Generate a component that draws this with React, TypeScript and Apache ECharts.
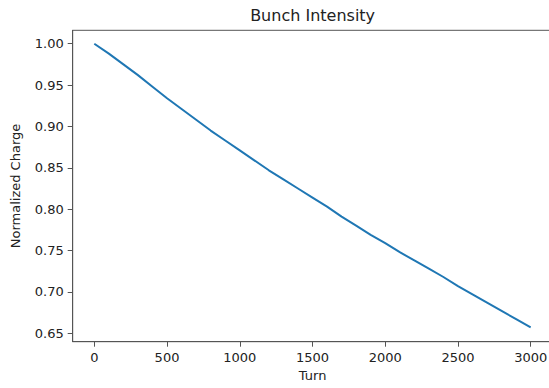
import React, { useEffect, useRef } from "react";
import * as echarts from "echarts";

const turns = [
  0, 100, 200, 300, 400, 500, 600, 700, 800, 900, 1000, 1100, 1200, 1300, 1400,
  1500, 1600, 1700, 1800, 1900, 2000, 2100, 2200, 2300, 2400, 2500, 2600, 2700,
  2800, 2900, 3000,
];
const charge = [
  1.0, 0.988, 0.975, 0.962, 0.948, 0.934, 0.921, 0.908, 0.895, 0.883, 0.871,
  0.859, 0.847, 0.836, 0.825, 0.814, 0.803, 0.791, 0.78, 0.769, 0.759, 0.748,
  0.738, 0.728, 0.718, 0.707, 0.697, 0.687, 0.677, 0.667, 0.657,
];
const xTicks = [0, 500, 1000, 1500, 2000, 2500, 3000];
const yTicks = [0.65, 0.7, 0.75, 0.8, 0.85, 0.9, 0.95, 1.0];

const FONT = "DejaVu Sans";
const TXT = "#222";
const SPINE = "#555";

export default function App() {
  const ref = useRef<HTMLDivElement>(null);
  useEffect(() => {
    if (!ref.current) return;
    const chart = echarts.init(ref.current, undefined, { renderer: "svg" });
    const gridLeft = 72.7;
    const gridTop = 30.3;
    const gridW = 479.8;
    const gridH = 311.4;
    chart.setOption({
      animation: false,
      backgroundColor: "#fff",
      grid: {
        left: gridLeft,
        top: gridTop,
        width: gridW,
        height: gridH,
        show: true,
        borderColor: SPINE,
        borderWidth: 1,
        containLabel: false,
      },
      graphic: [
        {
          type: "text",
          x: gridLeft + gridW / 2,
          y: 15,
          style: {
            text: "Bunch Intensity",
            font: `16px "${FONT}"`,
            fill: TXT,
            textAlign: "center",
            textVerticalAlign: "middle",
          },
        },
      ],
      xAxis: {
        type: "value",
        min: -148.5,
        max: 3150,
        name: "Turn",
        nameLocation: "middle",
        nameGap: 27,
        nameTextStyle: { fontFamily: FONT, fontSize: 13, color: TXT },
        axisLine: { show: true, onZero: false, lineStyle: { color: SPINE, width: 1 } },
        axisTick: {
          show: true,
          inside: false,
          length: 5,
          lineStyle: { color: SPINE, width: 1 },
          customValues: xTicks,
        },
        axisLabel: {
          show: true,
          margin: 9,
          fontFamily: FONT,
          fontSize: 13,
          color: TXT,
          customValues: xTicks,
          formatter: (v: number) => String(v),
        },
        splitLine: { show: false },
      },
      yAxis: {
        type: "value",
        min: 0.6398,
        max: 1.0162,
        name: "Normalized Charge",
        nameLocation: "middle",
        nameRotate: 90,
        nameGap: 51,
        nameTextStyle: { fontFamily: FONT, fontSize: 13, color: TXT },
        axisLine: { show: true, onZero: false, lineStyle: { color: SPINE, width: 1 } },
        axisTick: {
          show: true,
          inside: false,
          length: 5,
          lineStyle: { color: SPINE, width: 1 },
          customValues: yTicks,
        },
        axisLabel: {
          show: true,
          margin: 9,
          fontFamily: FONT,
          fontSize: 13,
          color: TXT,
          customValues: yTicks,
          formatter: (v: number) => v.toFixed(2),
        },
        splitLine: { show: false },
      },
      series: [
        {
          type: "line",
          data: turns.map((t, i) => [t, charge[i]]),
          showSymbol: false,
          symbol: "none",
          lineStyle: { color: "#1f77b4", width: 2 },
          clip: false,
        },
      ],
    });
    return () => chart.dispose();
  }, []);
  return (
    <div
      style={{
        position: "fixed",
        left: 0,
        top: 0,
        width: 549,
        height: 388,
        overflow: "hidden",
        background: "#fff",
      }}
    >
      <div ref={ref} style={{ width: 570, height: 388 }} />
    </div>
  );
}
